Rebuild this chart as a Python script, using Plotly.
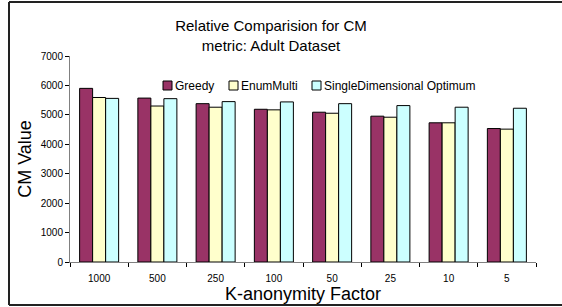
import plotly.graph_objects as go

categories = ["1000", "500", "250", "100", "50", "25", "10", "5"]
greedy = [5900, 5570, 5380, 5190, 5090, 4955, 4730, 4535]
enum_multi = [5590, 5300, 5260, 5170, 5055, 4920, 4730, 4515]
single_opt = [5560, 5550, 5450, 5440, 5380, 5315, 5260, 5225]
series_names = ["Greedy", "EnumMulti", "SingleDimensional Optimum"]
series_colors = ["#993366", "#FFFFCC", "#CCFFFF"]
series_values = [greedy, enum_multi, single_opt]

W, H = 562, 307
L, R, T, B = 70, 26, 56, 45
pw, ph = W - L - R, H - T - B


def px_x(p):
    return (p - L) / pw


def px_y(p):
    return (H - B - p) / ph


fig = go.Figure()
for name, vals, col in zip(series_names, series_values, series_colors):
    fig.add_trace(go.Bar(
        x=categories, y=vals, name=name, showlegend=False,
        marker=dict(color=col, line=dict(color="#000000", width=1)),
    ))

# legend (drawn manually to match the compact key layout)
legend_x = [163, 229, 312]
shapes = []
annotations = []
for name, col, lx in zip(series_names, series_colors, legend_x):
    shapes.append(dict(
        type="rect", xref="paper", yref="paper",
        x0=px_x(lx), x1=px_x(lx + 9), y0=px_y(90), y1=px_y(81),
        line=dict(color="#000000", width=1), fillcolor=col,
    ))
    annotations.append(dict(
        text=name, xref="paper", yref="paper", x=px_x(lx + 10), y=px_y(86),
        xanchor="left", yanchor="middle", showarrow=False,
        font=dict(size=12),
    ))

# outer frame: left, top and bottom edges (right edge lies outside the view)
frame = [
    (9, 2, 9, 305),
    (9, 2, 562, 2),
    (9, 305, 562, 305),
]
for x0, y0, x1, y1 in frame:
    shapes.append(dict(
        type="line", xref="paper", yref="paper",
        x0=px_x(x0), x1=px_x(x1), y0=px_y(y0), y1=px_y(y1),
        line=dict(color="#222222", width=2), layer="below",
    ))

fig.update_layout(
    width=W, height=H,
    margin=dict(l=L, r=R, t=T, b=B),
    paper_bgcolor="white", plot_bgcolor="white",
    font=dict(family="Liberation Sans, Arial, sans-serif", color="#000000"),
    barmode="group", bargap=0.33, bargroupgap=0,
    title=dict(
        text="Relative Comparision for CM<br>metric: Adult Dataset",
        x=271 / W, xanchor="center",
        y=1 - 31 / H, yanchor="middle",
        font=dict(size=15),
    ),
    showlegend=False,
    xaxis=dict(
        showline=True, linecolor="#808080", linewidth=1,
        ticks="outside", tickson="boundaries", ticklen=4, tickcolor="#000000",
        tickfont=dict(size=10), ticklabelstandoff=7,
        title=dict(text="K-anonymity Factor", font=dict(size=18), standoff=0),
        showgrid=False, zeroline=False, automargin=False,
    ),
    yaxis=dict(
        range=[0, 7000], tickvals=[0, 1000, 2000, 3000, 4000, 5000, 6000, 7000],
        showline=True, linecolor="#808080", linewidth=1,
        ticks="outside", ticklen=4, tickcolor="#000000",
        tickfont=dict(size=10),
        title=dict(text="CM Value", font=dict(size=18), standoff=4),
        showgrid=False, zeroline=False, automargin=False,
    ),
    shapes=shapes,
    annotations=annotations,
)

fig.write_html(
    "out.html",
    config={"displayModeBar": False},
    post_script=(
        "document.documentElement.style.overflow='hidden';"
        "document.body.style.margin='0';document.body.style.padding='0';"
        "document.body.style.overflow='hidden';"
    ),
)
